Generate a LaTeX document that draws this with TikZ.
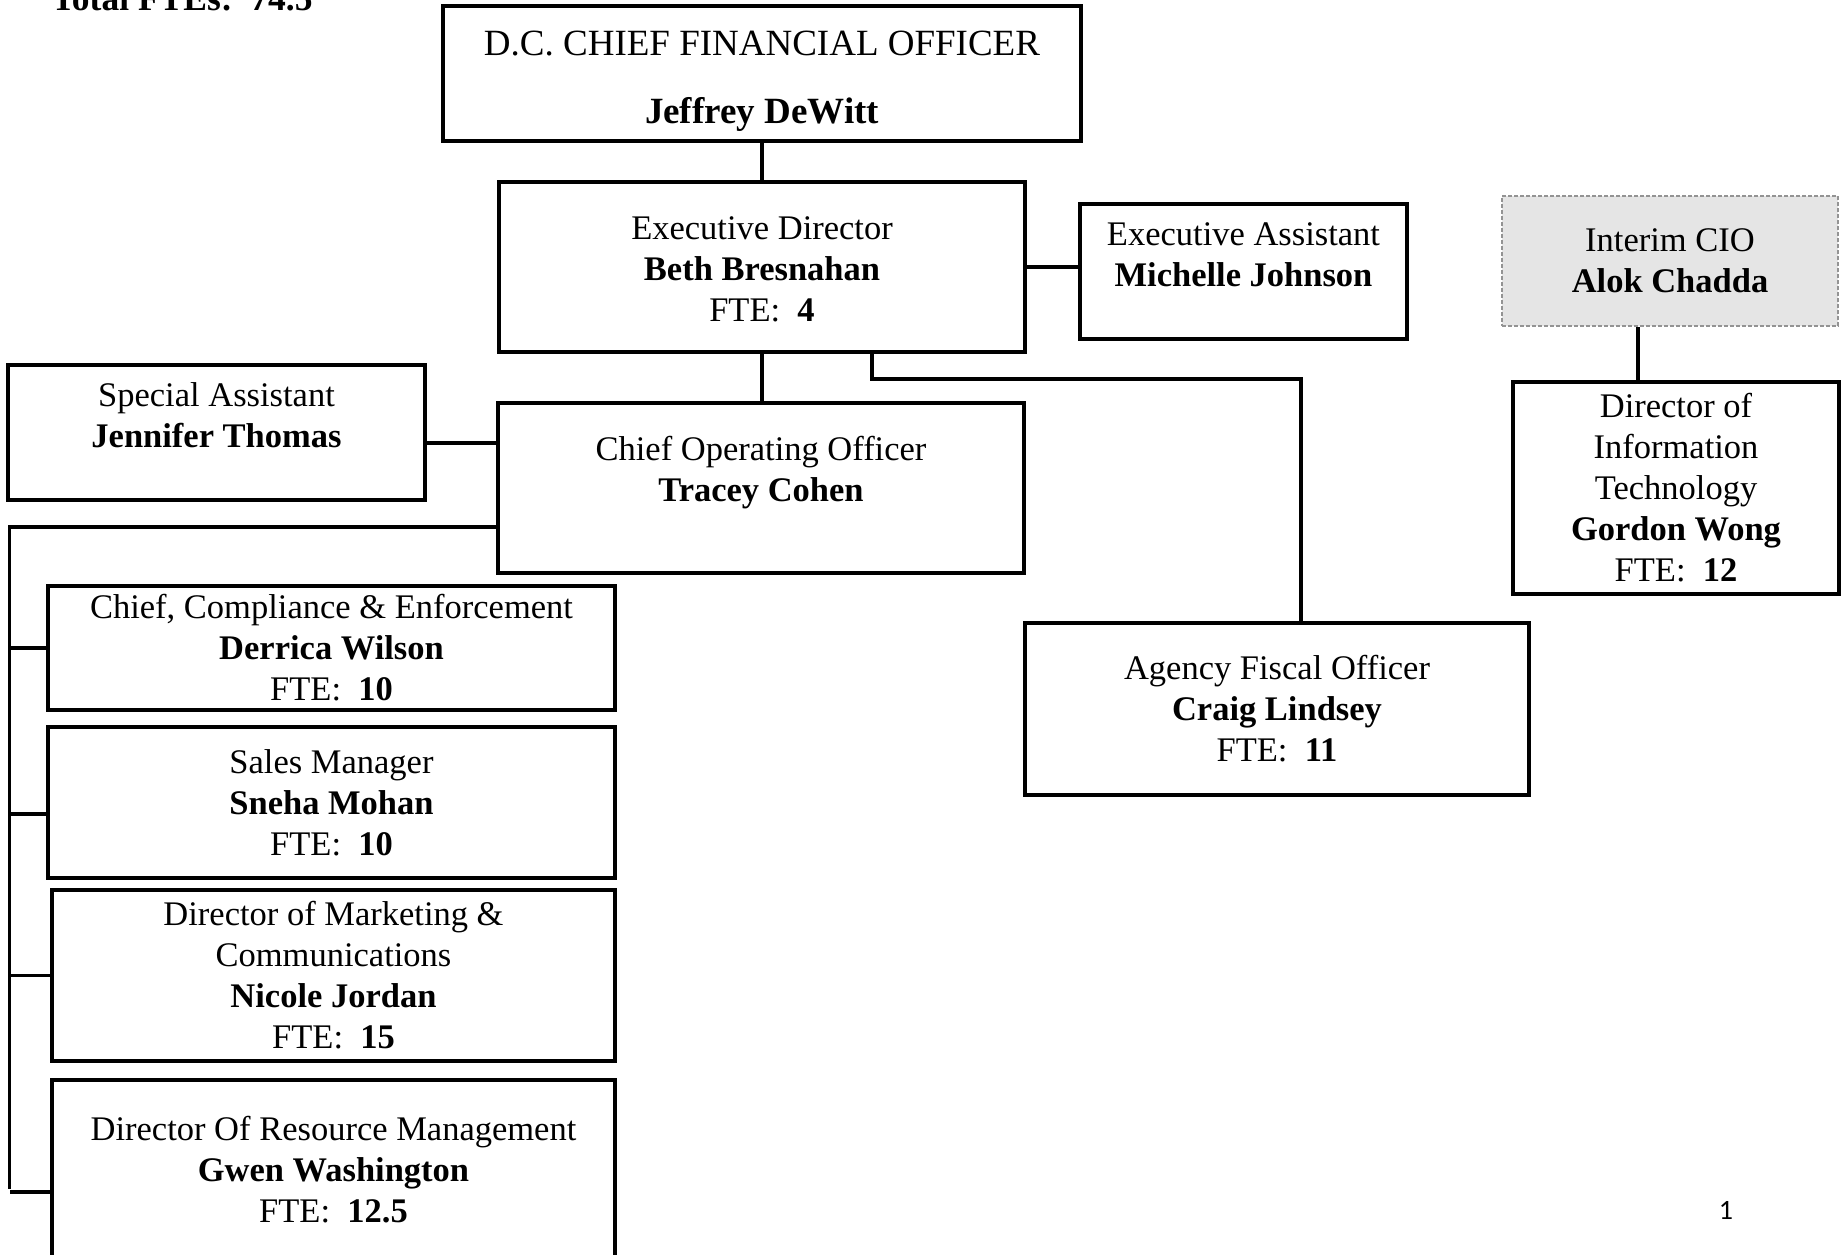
\documentclass[tikz,border=0pt]{standalone}
\usepackage{fontspec}
\setmainfont{Liberation Serif}
\newfontfamily\pagenumfont{Carlito}

\begin{document}
\begin{tikzpicture}[x=1pt,y=-1pt,
    post/.style={draw, line width=4pt, align=center, inner sep=0pt},
    link/.style={line width=3.5pt},
    font=\fontsize{34.5}{41}\selectfont]
  \useasboundingbox (0,0) rectangle (1841,1254);
  \node[anchor=base west,font=\fontsize{35.5}{41}\selectfont\bfseries] (total) at (48,10) {Total FTEs:\ \ 74.5};
  % top of the chart
  \node[post,minimum width=638pt,minimum height=135pt,font=\fontsize{37}{44}\selectfont] (cfo) at (762,73.5)
    {\mbox{}\\[-3.5pt]D.C. CHIEF FINANCIAL OFFICER\\[24pt]\textbf{Jeffrey DeWitt}};
  \node[post,minimum width=526pt,minimum height=170pt] (exdir) at (762,267)
    {\mbox{}\\[-13pt]Executive Director\\\textbf{Beth Bresnahan}\\FTE:\ \ \textbf{4}};
  \node[post,minimum width=327pt,minimum height=135pt] (exasst) at (1243.5,271.5)
    {Executive Assistant\\\textbf{Michelle Johnson}\\[-7pt]\mbox{}};
  \node[post,minimum width=336pt,minimum height=130pt,draw=gray!85,line width=2pt,
        dash pattern=on 4pt off 2pt,fill=black!10] (cio) at (1670,261)
    {Interim CIO\\\textbf{Alok Chadda}};
  \node[post,minimum width=326pt,minimum height=212pt] (dit) at (1676,488)
    {Director of\\Information\\Technology\\\textbf{Gordon Wong}\\FTE:\ \ \textbf{12}};
  % second row
  \node[post,minimum width=417pt,minimum height=135pt] (spasst) at (216.5,432.5)
    {Special Assistant\\\textbf{Jennifer Thomas}\\[-6pt]\mbox{}};
  \node[post,minimum width=526pt,minimum height=170pt] (coo) at (761,488)
    {Chief Operating Officer\\\textbf{Tracey Cohen}\\[-2pt]\mbox{}};
  \node[post,minimum width=504pt,minimum height=172pt] (afo) at (1277,709)
    {Agency Fiscal Officer\\\textbf{Craig Lindsey}\\FTE:\ \ \textbf{11}};
  % under the COO
  \node[post,minimum width=567pt,minimum height=124pt] (compl) at (331.5,648)
    {Chief, Compliance \& Enforcement\\\textbf{Derrica Wilson}\\FTE:\ \ \textbf{10}};
  \node[post,minimum width=567pt,minimum height=151pt] (sales) at (331.5,802.5)
    {Sales Manager\\\textbf{Sneha Mohan}\\FTE:\ \ \textbf{10}};
  \node[post,minimum width=563pt,minimum height=171pt] (mktg) at (333.5,975.5)
    {Director of Marketing \&\\Communications\\\textbf{Nicole Jordan}\\FTE:\ \ \textbf{15}};
  \node[post,minimum width=563pt,minimum height=180pt] (resmgmt) at (333.5,1170)
    {Director Of Resource Management\\\textbf{Gwen Washington}\\FTE:\ \ \textbf{12.5}};
  \node[font=\pagenumfont\fontsize{28}{30}\selectfont] (pagenum) at (1726,1210.5) {1};

  % connectors
  \draw[link] (cfo.south) -- (cfo.south |- exdir.north);
  \draw[link] (exdir.east) -- (exdir.east -| exasst.west);
  \draw[link] (exdir.south) -- (exdir.south |- coo.north);
  \draw[link] ([xshift=110pt]exdir.south) -- ++(0,25) -| ([xshift=24pt]afo.north);
  \draw[link] ([yshift=-10.5pt]spasst.east) coordinate (salink) -- (salink -| coo.west);
  \draw[link] ([xshift=-32pt]cio.south) coordinate (ciolink) -- (ciolink |- dit.north);
  \coordinate (bus) at (9.5,1189);
  \draw[link] ([yshift=-39pt]coo.west) -| (bus);
  \foreach \b/\dy in {compl/0,sales/-11.5,mktg/0,resmgmt/-22}{
    \draw[link] ([yshift=\dy pt]\b.west) coordinate (tap) -- (tap -| bus);
  }
\end{tikzpicture}
\end{document}
